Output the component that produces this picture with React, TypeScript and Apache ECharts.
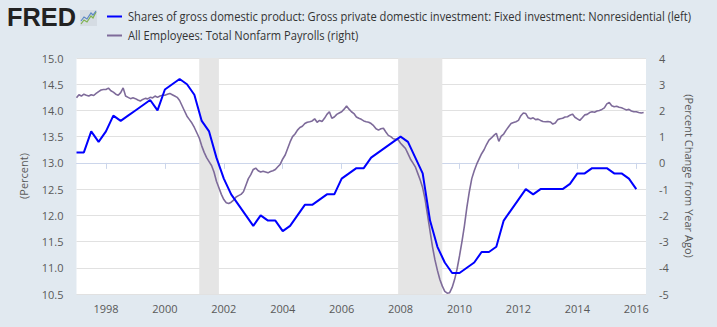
import React, { useEffect, useRef } from 'react';
import * as echarts from 'echarts';

const START_YEAR = 1997;

// Shares of GDP: Nonresidential fixed investment (quarterly, %), 1997Q1 .. 2016Q1
const investmentShare = [
  13.2, 13.2, 13.6, 13.4, // 1997
  13.6, 13.9, 13.8, 13.9, // 1998
  14.0, 14.1, 14.2, 14.0, // 1999
  14.4, 14.5, 14.6, 14.5, // 2000
  14.3, 13.8, 13.6, 13.1, // 2001
  12.7, 12.4, 12.2, 12.0, // 2002
  11.8, 12.0, 11.9, 11.9, // 2003
  11.7, 11.8, 12.0, 12.2, // 2004
  12.2, 12.3, 12.4, 12.4, // 2005
  12.7, 12.8, 12.9, 12.9, // 2006
  13.1, 13.2, 13.3, 13.4, // 2007
  13.5, 13.4, 13.1, 12.8, // 2008
  11.9, 11.4, 11.1, 10.9, // 2009
  10.9, 11.0, 11.1, 11.3, // 2010
  11.3, 11.4, 11.9, 12.1, // 2011
  12.3, 12.5, 12.4, 12.5, // 2012
  12.5, 12.5, 12.5, 12.6, // 2013
  12.8, 12.8, 12.9, 12.9, // 2014
  12.9, 12.8, 12.8, 12.7, // 2015
  12.5,                   // 2016
];

// All Employees: Total Nonfarm Payrolls, % change from year ago (monthly), 1997-01 .. 2016-04
const payrollsYoY = [
  2.48, 2.60, 2.55, 2.62, 2.58, 2.55, 2.60, 2.57, 2.65, 2.72, 2.78, 2.80, // 1997
  2.80, 2.85, 2.75, 2.70, 2.62, 2.58, 2.68, 2.86, 2.55, 2.50, 2.45, 2.48, // 1998
  2.45, 2.40, 2.36, 2.42, 2.46, 2.44, 2.50, 2.48, 2.55, 2.50, 2.55, 2.58, // 1999
  2.58, 2.62, 2.65, 2.60, 2.55, 2.50, 2.38, 2.18, 1.98, 1.78, 1.65, 1.52, // 2000
  1.35, 1.15, 0.95, 0.65, 0.40, 0.20, 0.05, -0.10, -0.35, -0.70, -0.95, -1.20, // 2001
  -1.40, -1.52, -1.55, -1.50, -1.42, -1.30, -1.25, -1.20, -1.10, -0.85, -0.60, -0.45, // 2002
  -0.25, -0.20, -0.30, -0.35, -0.32, -0.35, -0.38, -0.33, -0.30, -0.25, -0.15, -0.05, // 2003
  0.15, 0.30, 0.55, 0.80, 1.00, 1.10, 1.25, 1.35, 1.40, 1.50, 1.55, 1.57, // 2004
  1.60, 1.68, 1.55, 1.62, 1.58, 1.70, 1.85, 1.95, 1.70, 1.75, 1.85, 1.90, // 2005
  1.95, 2.05, 2.17, 2.05, 1.95, 1.88, 1.75, 1.70, 1.66, 1.60, 1.57, 1.55, // 2006
  1.50, 1.42, 1.30, 1.25, 1.30, 1.32, 1.18, 1.05, 1.00, 0.92, 0.90, 0.88, // 2007
  0.75, 0.65, 0.55, 0.35, 0.15, 0.00, -0.15, -0.40, -0.65, -0.95, -1.40, -2.00, // 2008
  -2.60, -3.20, -3.70, -4.10, -4.45, -4.70, -4.90, -4.97, -4.95, -4.75, -4.45, -4.05, // 2009
  -3.55, -3.00, -2.40, -1.70, -1.10, -0.60, -0.30, -0.05, 0.15, 0.35, 0.50, 0.70, // 2010
  0.87, 0.95, 1.05, 1.13, 0.82, 1.02, 1.10, 1.25, 1.38, 1.50, 1.54, 1.57, // 2011
  1.62, 1.80, 1.90, 1.88, 1.72, 1.68, 1.72, 1.65, 1.67, 1.62, 1.58, 1.57, // 2012
  1.58, 1.56, 1.48, 1.52, 1.65, 1.68, 1.70, 1.75, 1.76, 1.82, 1.86, 1.74, // 2013
  1.68, 1.62, 1.72, 1.83, 1.85, 1.92, 1.95, 1.93, 1.98, 2.00, 2.04, 2.10, // 2014
  2.25, 2.30, 2.18, 2.14, 2.16, 2.12, 2.10, 2.06, 2.02, 2.04, 1.98, 1.95, // 2015
  1.95, 1.92, 1.90, 1.92, // 2016
];

const xTickYears = [1998, 2000, 2002, 2004, 2006, 2008, 2010, 2012, 2014, 2016];
const recessionStarts = ['2001-03', '2007-12'];
const recessionEnds = ['2001-11', '2009-06'];

const TITLE_BLUE = 'Shares of gross domestic product: Gross private domestic investment: Fixed investment: Nonresidential (left)';
const TITLE_PURPLE = 'All Employees: Total Nonfarm Payrolls (right)';

const ym = (s: string) => {
  const [y, m] = s.split('-').map(Number);
  return y + (m - 1) / 12;
};

const BLUE = '#0000ff';
const PURPLE = '#7e6b9a';
const LABEL = '#595959';
const FONT = '"Open Sans", "DejaVu Sans", sans-serif';

export default function App() {
  const ref = useRef<HTMLDivElement>(null);
  useEffect(() => {
    const el = ref.current!;
    const chart = echarts.init(el, null, { renderer: 'svg' });

    const ctx = document.createElement('canvas').getContext('2d')!;
    const measure = (t: string, f: string) => {
      ctx.font = f;
      return ctx.measureText(t).width;
    };
    const legendFont = '12px "Open Sans"';
    const legendScale = 563 / measure(TITLE_BLUE, legendFont);
    const logoFont = 'bold 26px "Liberation Sans"';
    const logoScale = 69 / measure('FRED', logoFont);

    const blueData = investmentShare.map((v, i) => [START_YEAR + i * 0.25, v]);
    const purpleData = payrollsYoY.map((v, i) => [START_YEAR + i / 12, v]);
    const areas = recessionStarts.map((s, i) => [{ xAxis: ym(s) }, { xAxis: ym(recessionEnds[i]) }]);

    chart.setOption({
      animation: false,
      backgroundColor: 'transparent',
      grid: {
        left: 76.5,
        right: 71,
        top: 58,
        bottom: 33,
        show: true,
        backgroundColor: '#ffffff',
        borderWidth: 0,
      },
      xAxis: {
        type: 'value',
        min: 1997,
        max: 2016.33,
        splitLine: { show: false },
        axisLine: { lineStyle: { color: '#ccd6eb', width: 1 } },
        axisTick: { customValues: xTickYears, length: 6, lineStyle: { color: '#ccd6eb' } },
        axisLabel: {
          customValues: xTickYears,
          formatter: (v: number) => String(Math.round(v)),
          color: LABEL,
          fontSize: 11,
          fontFamily: FONT,
          margin: 9,
        },
      },
      yAxis: [
        {
          type: 'value',
          position: 'left',
          min: 10.5,
          max: 15,
          interval: 0.5,
          name: '(Percent)',
          nameLocation: 'middle',
          nameRotate: 90,
          nameGap: 48,
          nameTextStyle: { color: LABEL, fontSize: 11, fontFamily: FONT },
          axisLine: { show: false },
          axisTick: { show: false },
          splitLine: { lineStyle: { color: '#e1e1e1', width: 1 } },
          axisLabel: {
            formatter: (v: number) => v.toFixed(1),
            color: LABEL,
            fontSize: 11,
            fontFamily: FONT,
            margin: 13,
          },
        },
        {
          type: 'value',
          position: 'right',
          min: -5,
          max: 4,
          interval: 1,
          name: '(Percent Change from Year Ago)',
          nameLocation: 'middle',
          nameRotate: -90,
          nameGap: 38,
          nameTextStyle: { color: LABEL, fontSize: 11, fontFamily: FONT },
          axisLine: { show: false },
          axisTick: { show: false },
          splitLine: { show: false },
          axisLabel: { color: LABEL, fontSize: 11, fontFamily: FONT, margin: 13 },
        },
      ],
      series: [
        {
          type: 'line',
          data: [],
          z: 1,
          silent: true,
          markArea: {
            silent: true,
            itemStyle: { color: '#e5e5e5' },
            data: areas,
          },
        },
        {
          name: TITLE_PURPLE,
          type: 'line',
          yAxisIndex: 1,
          data: purpleData,
          showSymbol: false,
          lineStyle: { color: PURPLE, width: 1.6 },
          itemStyle: { color: PURPLE },
          z: 3,
        },
        {
          name: TITLE_BLUE,
          type: 'line',
          yAxisIndex: 0,
          data: blueData,
          showSymbol: false,
          lineStyle: { color: BLUE, width: 2 },
          itemStyle: { color: BLUE },
          z: 4,
        },
      ],
      graphic: [
        {
          type: 'text',
          x: 7,
          y: 16.5,
          scaleX: logoScale,
          style: { text: 'FRED', font: logoFont, fill: '#222222', verticalAlign: 'middle', align: 'left' },
        },
        { type: 'rect', shape: { x: 80, y: 10, width: 17, height: 16 }, style: { fill: '#d5dce3' } },
        {
          type: 'polyline',
          shape: { points: [[81, 24], [84, 20], [87, 22], [91, 16], [93, 18], [96, 12]] },
          style: { stroke: '#7fb24e', lineWidth: 1.2, fill: 'none' },
        },
        {
          type: 'polyline',
          shape: { points: [[81, 21], [84, 17], [87, 19], [91, 13], [93, 15], [96, 11]] },
          style: { stroke: '#5d87c4', lineWidth: 1.2, fill: 'none' },
        },
        { type: 'line', shape: { x1: 107, y1: 16.5, x2: 122, y2: 16.5 }, style: { stroke: BLUE, lineWidth: 2 } },
        {
          type: 'text',
          x: 128,
          y: 16.5,
          scaleX: legendScale,
          style: { text: TITLE_BLUE, font: legendFont, fill: '#333333', verticalAlign: 'middle', align: 'left' },
        },
        { type: 'line', shape: { x1: 107, y1: 35.5, x2: 122, y2: 35.5 }, style: { stroke: PURPLE, lineWidth: 2 } },
        {
          type: 'text',
          x: 128,
          y: 35.5,
          scaleX: legendScale,
          style: { text: TITLE_PURPLE, font: legendFont, fill: '#333333', verticalAlign: 'middle', align: 'left' },
        },
      ],
    });

    return () => chart.dispose();
  }, []);

  return (
    <div
      ref={ref}
      style={{ position: 'fixed', left: 0, top: 0, width: 717, height: 327, background: '#e1e9f0' }}
    />
  );
}
